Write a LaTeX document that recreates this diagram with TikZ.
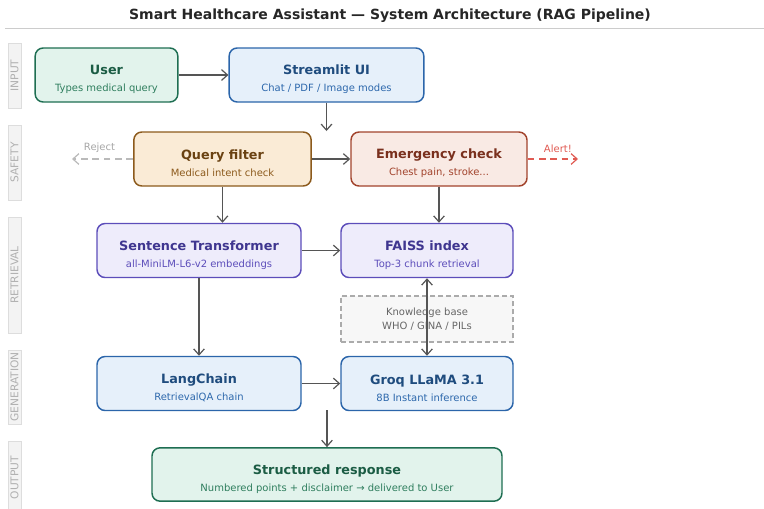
\documentclass[tikz,border=0pt]{standalone}
\usepackage{fontspec}
\setmainfont{DejaVu Sans}
\usetikzlibrary{arrows.meta}
\definecolor{grnD}{HTML}{1E6E52}
\definecolor{grnL}{HTML}{E2F3EC}
\definecolor{grnT}{HTML}{1B5C44}
\definecolor{grnS}{HTML}{2F7E5E}
\definecolor{bluD}{HTML}{2B65AA}
\definecolor{bluL}{HTML}{E6F0FA}
\definecolor{bluT}{HTML}{1F4C7E}
\definecolor{bluS}{HTML}{2D68AC}
\definecolor{ornD}{HTML}{8C5A1C}
\definecolor{ornL}{HTML}{FAEBD6}
\definecolor{ornT}{HTML}{6A4212}
\definecolor{ornS}{HTML}{8C5A1C}
\definecolor{redD}{HTML}{A2432C}
\definecolor{redL}{HTML}{F9EAE4}
\definecolor{redT}{HTML}{7A301D}
\definecolor{redS}{HTML}{A2432C}
\definecolor{purD}{HTML}{5C4DBA}
\definecolor{purL}{HTML}{EEECFB}
\definecolor{purT}{HTML}{3F3690}
\definecolor{purS}{HTML}{5C4DBA}
\definecolor{arrG}{HTML}{555555}
\definecolor{laneF}{HTML}{F3F3F3}
\definecolor{laneD}{HTML}{DDDDDD}
\definecolor{laneT}{HTML}{B0B0B0}
\definecolor{alertR}{HTML}{E05A52}
\tikzset{blk/.style={rounded corners=6pt,draw,line width=1.1pt,align=center,inner sep=0pt,minimum height=40.5pt},
         grnbox/.style={blk,draw=grnD,fill=grnL},
         blubox/.style={blk,draw=bluD,fill=bluL},
         ornbox/.style={blk,draw=ornD,fill=ornL},
         redbox/.style={blk,draw=redD,fill=redL},
         purbox/.style={blk,draw=purD,fill=purL},
  kbbox/.style={draw=black!33,fill=black!3,line width=1.3pt,dash pattern=on 4pt off 2pt,align=center,
                minimum width=129pt,minimum height=34.5pt,inner sep=0pt,text=black!60,font=\fontsize{7.5}{10.5}\selectfont},
  arr/.style={line width=0.9pt,draw=arrG,-{Straight Barb[length=4.5pt,width=8pt]}},
  sidearr/.style={line width=0.9pt,dash pattern=on 5pt off 3.5pt,-{Straight Barb[length=4.5pt,width=8pt]}},
  lane/.style={draw=laneD,fill=laneF,line width=0.5pt},
  lanelab/.style={rotate=90,text=laneT,font=\fontsize{8}{9}\selectfont}
         }
\newcommand{\boxhead}[2]{{\fontsize{9.6}{11}\selectfont\bfseries\rule{0pt}{14pt}\textcolor{#1}{#2}}}
\newcommand{\boxsub}[2]{{\fontsize{7.5}{8}\selectfont\textcolor{#1}{#2}}}
\begin{document}
\begin{tikzpicture}[x=0.75pt,y=-0.75pt]
\useasboundingbox (0,0) rectangle (764,508);
\node[font=\fontsize{10.5}{12}\selectfont\bfseries,text=black!85] (title) at (390,16) {Smart Healthcare Assistant — System Architecture (RAG Pipeline)};
\draw[black!20,line width=0.6pt] (5,28) -- (764,28);

% stage bars on the left
\foreach \lab/\ya/\yb in {INPUT/43/108,SAFETY/125/200,RETRIEVAL/217/333,GENERATION/350/424,OUTPUT/441/514}{
  \draw[lane] (8,\ya) rectangle (21,\yb);
  \node[lanelab] (lane-\lab) at (14.5,{(\ya+\yb)/2}) {\lab};
}

\node[grnbox,minimum width=107pt] (user) at (106.5,75) {\boxhead{grnT}{User}\\[1pt]\boxsub{grnS}{Types medical query}};
\node[blubox,minimum width=146pt] (ui) at (326.5,75) {\boxhead{bluT}{Streamlit UI}\\[1pt]\boxsub{bluS}{Chat / PDF / Image modes}};
\node[ornbox,minimum width=133pt] (qfilter) at (222.5,159) {\boxhead{ornT}{Query filter}\\[1pt]\boxsub{ornS}{Medical intent check}};
\node[redbox,minimum width=132pt] (emerg) at (439,159) {\boxhead{redT}{Emergency check}\\[1pt]\boxsub{redS}{Chest pain, stroke...}};
\node[purbox,minimum width=153pt] (sbert) at (199,250.5) {\boxhead{purT}{Sentence Transformer}\\[1pt]\boxsub{purS}{all-MiniLM-L6-v2 embeddings}};
\node[purbox,minimum width=129pt] (faiss) at (427,250.5) {\boxhead{purT}{FAISS index}\\[1pt]\boxsub{purS}{Top-3 chunk retrieval}};
\node[kbbox] (kb) at (427,319) {Knowledge base\\WHO / GINA / PILs};
\node[blubox,minimum width=153pt] (lchain) at (199,383.5) {\boxhead{bluT}{LangChain}\\[1pt]\boxsub{bluS}{RetrievalQA chain}};
\node[blubox,minimum width=129pt] (groq) at (427,383.5) {\boxhead{bluT}{Groq LLaMA 3.1}\\[1pt]\boxsub{bluS}{8B Instant inference}};
\node[grnbox,minimum width=262.5pt,minimum height=40pt] (resp) at (327,474.5) {\boxhead{grnT}{Structured response}\\[1pt]\boxsub{grnS}{Numbered points + disclaimer → delivered to User}};

\coordinate (uidrop) at (326.5,131);
\coordinate (genout) at (327,410);
\coordinate (rejend) at (72,159);
\coordinate (alertend) at (578,159);

\draw[arr] (user) -- (ui);
\draw[arr] (ui.south) -- (uidrop);
\draw[arr] (qfilter) -- (emerg);
\draw[arr] (qfilter.south) -- (qfilter.south |- sbert.north);
\draw[arr] (emerg.south) -- (emerg.south |- faiss.north);
\draw[arr] (sbert) -- (faiss);
\draw[arr] (sbert.south) -- (lchain.north);
\draw[arr,{Straight Barb[length=4.5pt,width=8pt]}-{Straight Barb[length=4.5pt,width=8pt]}] (faiss.south) -- (groq.north);
\draw[arr] (lchain) -- (groq);
\draw[arr] (genout) -- (genout |- resp.north);
\draw[sidearr,draw=black!27] (qfilter.west) -- (rejend) node[pos=0.55,above=1pt,text=black!35,font=\fontsize{7.5}{8}\selectfont] (rejlab) {Reject};
\draw[sidearr,draw=alertR] (emerg.east) -- (alertend) node[pos=0.6,above=1pt,text=alertR,font=\fontsize{7.5}{8}\selectfont] (alertlab) {Alert!};
\end{tikzpicture}
\end{document}
